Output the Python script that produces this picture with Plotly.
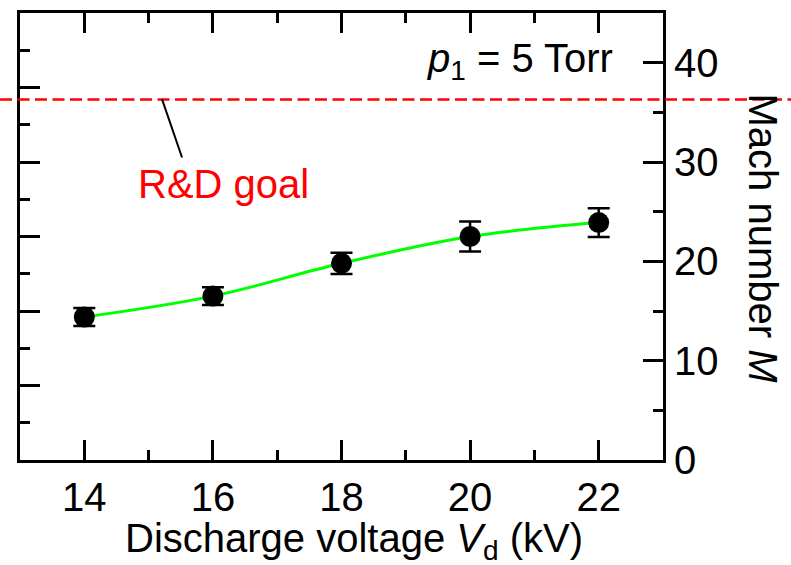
import plotly.graph_objects as go

# Measured Mach number vs. discharge voltage (p1 = 5 Torr)
voltage_kv = [14, 16, 18, 20, 22]
mach = [14.4, 16.5, 19.8, 22.5, 23.9]
mach_err = [0.9, 0.9, 1.07, 1.5, 1.45]

goal_mach = 36.3
x_ticks = [14, 16, 18, 20, 22]
y_ticks = [0, 10, 20, 30, 40]

FONT = "Liberation Sans, Arial, sans-serif"
FS = 40

fig = go.Figure()

# smooth guide curve through the measurements
fig.add_trace(go.Scatter(
    x=voltage_kv, y=mach, mode="lines",
    line=dict(color="#00ff00", width=3, shape="spline", smoothing=1.0),
    hoverinfo="skip", showlegend=False,
))

# data points with error bars
fig.add_trace(go.Scatter(
    x=voltage_kv, y=mach, mode="markers",
    marker=dict(color="black", size=21),
    error_y=dict(type="data", array=mach_err, color="black", thickness=2.5, width=11),
    showlegend=False,
))

# dummy trace so the secondary (left) axis is drawn
fig.add_trace(go.Scatter(x=[None], y=[None], yaxis="y2", showlegend=False, hoverinfo="skip"))

# R&D goal line spanning the whole figure width
fig.add_shape(type="line", xref="paper", yref="y", x0=-20 / 643, x1=771 / 643,
              y0=goal_mach, y1=goal_mach,
              line=dict(color="red", width=2.5, dash="12px,5.5px"))
# leader from the goal line to its label
fig.add_shape(type="line", xref="x", yref="y", x0=15.21, y0=goal_mach, x1=15.52, y1=30.45,
              line=dict(color="black", width=2))

fig.add_annotation(x=16.17, y=27.8, xref="x", yref="y", text="R&D goal", showarrow=False,
                   font=dict(family=FONT, size=FS, color="red"))
fig.add_annotation(x=22.25, y=40.2, xref="x", yref="y", xanchor="right",
                   text="<i>p</i><sub>1</sub> = 5 Torr", showarrow=False,
                   font=dict(family=FONT, size=FS, color="black"))
fig.add_annotation(x=1, y=0.4956, xref="paper", yref="paper", xshift=124, textangle=90,
                   text="Mach number <i>M</i>", showarrow=False,
                   font=dict(family=FONT, size=FS, color="black"))
fig.add_annotation(x=0.519, y=-0.182, xref="paper", yref="paper", yanchor="middle",
                   text="Discharge voltage <i>V</i><sub>d</sub> (kV)", showarrow=False,
                   font=dict(family=FONT, size=FS, color="black"))

axis_common = dict(showline=True, linecolor="black", linewidth=3, ticks="inside",
                   ticklen=20, tickwidth=2.5, tickcolor="black", showgrid=False,
                   zeroline=False, tickfont=dict(family=FONT, size=FS, color="black"))

fig.update_layout(
    width=791, height=565,
    margin=dict(l=20, r=128, t=10, b=105),
    plot_bgcolor="white", paper_bgcolor="white",
    font=dict(family=FONT, size=FS, color="black"),
    xaxis=dict(range=[13, 23], tickvals=x_ticks, mirror="ticks",
               minor=dict(ticks="inside", ticklen=10, tickwidth=2.5, tickcolor="black", dtick=1, tick0=13),
               **axis_common),
    yaxis=dict(range=[0, 45], tickvals=y_ticks, side="right",
               minor=dict(ticks="inside", ticklen=10, tickwidth=2.5, tickcolor="black", dtick=5, tick0=0),
               **axis_common),
    yaxis2=dict(range=[0, 6], dtick=1, tick0=0, side="left", overlaying="y", showticklabels=False,
                minor=dict(ticks="inside", ticklen=10, tickwidth=2.5, tickcolor="black", dtick=0.5, tick0=0),
                **axis_common),
)

fig.write_html("out.html")
